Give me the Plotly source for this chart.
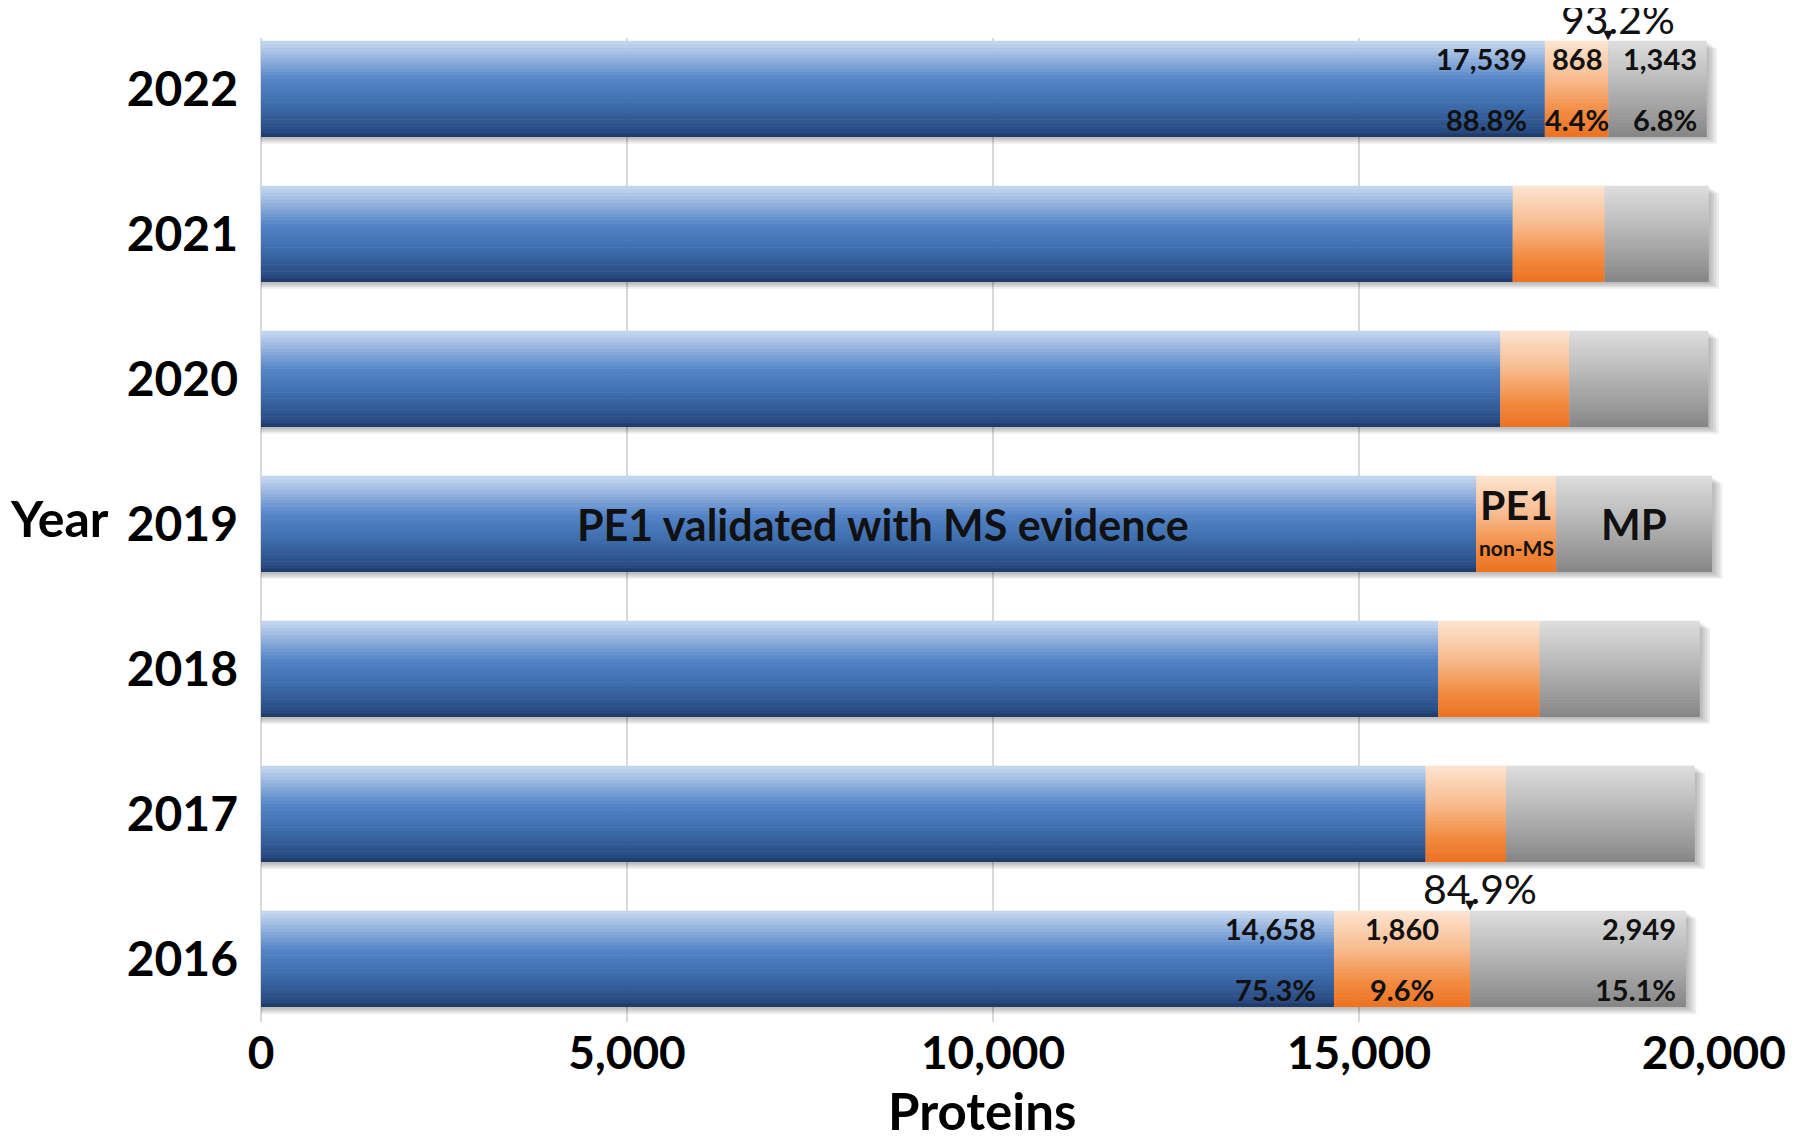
import plotly.graph_objects as go

# ---------------- data ----------------
years = ["2016", "2017", "2018", "2019", "2020", "2021", "2022"]
pe1_ms = [14658, 15910, 16080, 16600, 16930, 17100, 17539]
pe1_non_ms = [1860, 1098, 1390, 1094, 944, 1257, 868]
missing = [2949, 2579, 2186, 2129, 1899, 1421, 1343]
x_ticks = [0, 5000, 10000, 15000, 20000]
x_tick_labels = ["0", "5,000", "10,000", "15,000", "20,000"]
labelled_years = ["2016", "2022"]
legend_year = "2019"

# ---------------- style ----------------
FONT = "Lato"
BAR_W = 0.66
N_BANDS = 28

blue_stops = [(0.0, "#1b355f"), (0.05, "#27497f"), (0.35, "#3f6eae"),
              (0.6, "#5585c8"), (1.0, "#c8d9f0")]
orange_stops = [(0.0, "#ec7220"), (0.25, "#f28a3f"), (0.6, "#f8bb8e"),
                (1.0, "#fde4d1")]
gray_stops = [(0.0, "#858585"), (0.3, "#a2a2a2"), (0.7, "#c4c4c4"),
              (1.0, "#dedede")]


def hex2rgb(h):
    h = h.lstrip("#")
    return tuple(int(h[i:i + 2], 16) for i in (0, 2, 4))


def interp(stops, t):
    for (t0, c0), (t1, c1) in zip(stops[:-1], stops[1:]):
        if t0 <= t <= t1:
            f = (t - t0) / (t1 - t0) if t1 > t0 else 0
            a, b = hex2rgb(c0), hex2rgb(c1)
            return "rgb(%d,%d,%d)" % tuple(round(a[k] + (b[k] - a[k]) * f) for k in range(3))
    return stops[-1][1]


totals = [a + b + c for a, b, c in zip(pe1_ms, pe1_non_ms, missing)]
starts_orange = pe1_ms
starts_gray = [a + b for a, b in zip(pe1_ms, pe1_non_ms)]

fig = go.Figure()

# soft drop shadow
for k in range(1, 5):
    fig.add_trace(go.Bar(
        y=years, x=[t + 35 * k for t in totals], base=[0] * len(years),
        orientation="h", width=BAR_W, offset=-BAR_W / 2 - 0.012 * k,
        marker=dict(color="rgba(0,0,0,0.07)", line=dict(width=0)),
        hoverinfo="skip", showlegend=False))

segments = [
    (pe1_ms, [0] * len(years), blue_stops),
    (pe1_non_ms, starts_orange, orange_stops),
    (missing, starts_gray, gray_stops),
]
band = BAR_W / N_BANDS
for vals, bases, stops in segments:
    for i in range(N_BANDS):
        s = (i + 0.5) / N_BANDS
        fig.add_trace(go.Bar(
            y=years, x=vals, base=bases, orientation="h",
            width=band * 1.15, offset=-BAR_W / 2 + i * band,
            marker=dict(color=interp(stops, s), line=dict(width=0)),
            hoverinfo="skip", showlegend=False))

ann = []
lab_font = dict(family=FONT, size=29, color="#111111", weight=700)
for yr in labelled_years:
    j = years.index(yr)
    tot = totals[j]
    b, o, m = pe1_ms[j], pe1_non_ms[j], missing[j]
    pe1 = b + o
    # blue
    ann.append(dict(x=b, y=j, text=f"{b:,}", xanchor="right", xshift=-16, yshift=31,
                    showarrow=False, font=lab_font))
    ann.append(dict(x=b, y=j, text=f"{100 * b / tot:.1f}%", xanchor="right", xshift=-16, yshift=-30,
                    showarrow=False, font=lab_font))
    # orange
    ann.append(dict(x=b + o / 2, y=j, text=f"{o:,}", xanchor="center", yshift=31,
                    showarrow=False, font=lab_font))
    ann.append(dict(x=b + o / 2, y=j, text=f"{100 * o / tot:.1f}%", xanchor="center", yshift=-30,
                    showarrow=False, font=lab_font))
    # gray
    ann.append(dict(x=tot, y=j, text=f"{m:,}", xanchor="right", xshift=-8, yshift=31,
                    showarrow=False, font=lab_font))
    ann.append(dict(x=tot, y=j, text=f"{100 * m / tot:.1f}%", xanchor="right", xshift=-8, yshift=-30,
                    showarrow=False, font=lab_font))
    # PE1 share marker
    ann.append(dict(x=pe1, y=j, text="▼", xanchor="center", yshift=55,
                    showarrow=False, font=dict(family="DejaVu Sans", size=13, color="#111111")))
    ann.append(dict(x=pe1, y=j, text=f"{100 * pe1 / tot:.1f}%", xanchor="center", xshift=10, yshift=71,
                    showarrow=False, font=dict(family=FONT, size=41, color="#111111", weight=400)))

# in-bar legend labels (2019)
j = years.index(legend_year)
big = dict(family=FONT, size=43, color="#111111", weight=700)
ann.append(dict(x=pe1_ms[j] * 0.512, y=j, text="PE1 validated with MS evidence",
                xanchor="center", showarrow=False, font=big))
ann.append(dict(x=pe1_ms[j] + pe1_non_ms[j] / 2, y=j, text="PE1", yshift=20,
                xanchor="center", showarrow=False, font=dict(family=FONT, size=41, color="#111111", weight=700)))
ann.append(dict(x=pe1_ms[j] + pe1_non_ms[j] / 2, y=j, text="non-MS", yshift=-23,
                xanchor="center", showarrow=False, font=dict(family=FONT, size=21, color="#111111", weight=700)))
ann.append(dict(x=starts_gray[j] + missing[j] / 2, y=j, text="MP",
                xanchor="center", showarrow=False, font=dict(family=FONT, size=42, color="#111111", weight=700)))
# axis titles
ann.append(dict(x=0, y=0.5, xref="paper", yref="paper", text="Year", xanchor="left", xshift=-253,
                yshift=12, showarrow=False, font=dict(family=FONT, size=50, color="#000000", weight=700)))
ann.append(dict(x=0.5, y=0, xref="paper", yref="paper", text="Proteins", xanchor="center",
                yanchor="middle", xshift=-11, yshift=-88, showarrow=False,
                font=dict(family=FONT, size=51, color="#000000", weight=700)))

# the last tick label sits at the window edge; pad it so it stays fully visible
tick_text = x_tick_labels[:-1] + [x_tick_labels[-1] + "\u00a0\u00a0"]

# page body adds an 8 px offset, so the figure is sized to fit the window
fig.update_layout(
    width=1792, height=1131,
    paper_bgcolor="white", plot_bgcolor="white",
    barmode="overlay",
    margin=dict(l=253, r=75, t=30, b=117),
    font=dict(family=FONT, color="#000000"),
    xaxis=dict(range=[0, 20000], tickvals=x_ticks, ticktext=tick_text,
               automargin=False, ticklabeloverflow="allow",
               showgrid=True, gridcolor="#d9d9d9", gridwidth=2,
               zeroline=True, zerolinecolor="#d9d9d9", zerolinewidth=2,
               showline=False, ticks="",
               tickfont=dict(family=FONT, size=46, color="#000000", weight=700)),
    yaxis=dict(type="category", categoryorder="array", categoryarray=years,
               automargin=False,
               range=[-0.434, 6.352], showgrid=False, zeroline=False, ticks="",
               ticklabelstandoff=22,
               tickfont=dict(family=FONT, size=48, color="#000000", weight=700)),
    annotations=ann,
)

fig.write_html("out.html")
